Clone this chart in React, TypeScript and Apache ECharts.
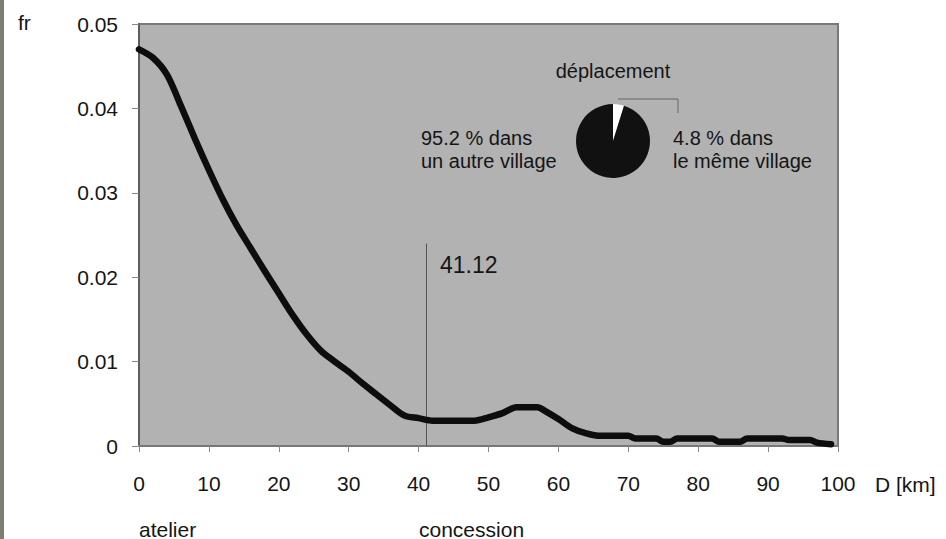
import React, { useEffect, useRef } from "react";
import * as echarts from "echarts";

const distances = [0, 2, 4, 6, 8, 10, 12, 14, 16, 18, 20, 22, 24, 26, 28, 30, 32, 34, 36, 38, 40, 42, 44, 46, 48, 50, 52, 54, 56, 57, 58, 60, 62, 64, 66, 68, 70, 71, 74, 75, 76, 77, 80, 82, 83, 86, 87, 88, 92, 93, 96, 97, 99];
const frequencies = [0.0470, 0.0460, 0.0440, 0.0403, 0.0364, 0.0327, 0.0292, 0.0261, 0.0234, 0.0207, 0.0181, 0.0155, 0.0132, 0.0113, 0.0100, 0.0088, 0.0074, 0.0061, 0.0048, 0.0036, 0.0033, 0.0030, 0.0030, 0.0030, 0.0030, 0.0034, 0.0039, 0.0046, 0.0046, 0.0046, 0.0042, 0.0032, 0.0021, 0.0015, 0.0012, 0.0012, 0.0012, 0.0009, 0.0009, 0.0005, 0.0005, 0.0009, 0.0009, 0.0009, 0.0005, 0.0005, 0.0009, 0.0009, 0.0009, 0.0007, 0.0007, 0.0004, 0.0002];
const markerDistance = 41.12;
const markerTop = 0.024;
const pieNames = ["le même village", "un autre village"];
const pieShares = [4.8, 95.2];

const FONT = "'Liberation Sans', Arial, Helvetica, sans-serif";
const TXT = "#151515";

export default function App() {
  const ref = useRef<HTMLDivElement>(null);
  useEffect(() => {
    if (!ref.current) return;
    const chart = echarts.init(ref.current, null, { renderer: "svg" });
    const lineData = distances.map((d, i) => [d, frequencies[i]]);
    chart.setOption({
      animation: false,
      backgroundColor: "#ffffff",
      textStyle: { fontFamily: FONT },
      grid: {
        left: 139,
        top: 24,
        width: 699,
        height: 422,
        show: true,
        backgroundColor: "#b2b2b2",
        borderColor: "#7a7a7a",
        borderWidth: 2,
      },
      xAxis: {
        type: "value",
        min: 0,
        max: 100,
        interval: 10,
        axisLine: { show: true, onZero: false, lineStyle: { color: "#777", width: 2 } },
        axisTick: { show: true, length: 6, lineStyle: { color: "#888" } },
        axisLabel: { fontSize: 21, color: TXT, margin: 27, fontFamily: FONT },
        splitLine: { show: false },
      },
      yAxis: {
        type: "value",
        min: 0,
        max: 0.05,
        interval: 0.01,
        axisLine: { show: true, lineStyle: { color: "#555", width: 1.5 } },
        axisTick: { show: true, length: 7, lineStyle: { color: "#888" } },
        axisLabel: {
          fontSize: 21,
          color: TXT,
          margin: 21,
          fontFamily: FONT,
          formatter: (v: number) => (v === 0 ? "0" : v.toFixed(2)),
        },
        splitLine: { show: false },
      },
      series: [
        {
          type: "line",
          data: lineData,
          showSymbol: false,
          smooth: 0.3,
          lineStyle: { color: "#0d0d0d", width: 6.5, cap: "round", join: "round" },
          z: 5,
          markLine: {
            silent: true,
            symbol: "none",
            label: { show: false },
            lineStyle: { color: "#555", width: 1, type: "solid" },
            data: [[{ coord: [markerDistance, 0] }, { coord: [markerDistance, markerTop] }]],
          },
        },
        {
          type: "pie",
          center: [613, 141],
          radius: 37,
          startAngle: 90,
          clockwise: true,
          label: { show: false },
          labelLine: { show: false },
          silent: true,
          z: 6,
          data: [
            { name: pieNames[0], value: pieShares[0], itemStyle: { color: "#ffffff", borderWidth: 0 } },
            { name: pieNames[1], value: pieShares[1], itemStyle: { color: "#111111", borderWidth: 0 } },
          ],
        },
      ],
      graphic: [
        { type: "rect", left: 0, top: 0, shape: { width: 4, height: 539 }, style: { fill: "#7d7d72" } },
        { type: "text", x: 18, y: 22, style: { text: "fr", font: `21px ${FONT}`, fill: TXT, textVerticalAlign: "middle" } },
        { type: "text", x: 875, y: 484, style: { text: "D [km]", font: `21px ${FONT}`, fill: TXT, textVerticalAlign: "middle" } },
        { type: "text", x: 139, y: 529, style: { text: "atelier", font: `21px ${FONT}`, fill: TXT, textVerticalAlign: "middle" } },
        { type: "text", x: 419, y: 529, style: { text: "concession", font: `21px ${FONT}`, fill: TXT, textVerticalAlign: "middle" } },
        { type: "text", x: 440, y: 265, z: 10, style: { text: String(markerDistance), font: `23px ${FONT}`, fill: TXT, textVerticalAlign: "middle" } },
        { type: "text", x: 613, y: 71, z: 10, style: { text: "déplacement", font: `20px ${FONT}`, fill: TXT, textAlign: "center", textVerticalAlign: "middle" } },
        { type: "text", x: 421, y: 149, z: 10, style: { text: `${pieShares[1]} % dans\n${pieNames[1]}`, font: `20px ${FONT}`, lineHeight: 23, fill: TXT, textVerticalAlign: "middle" } },
        { type: "text", x: 673, y: 149, z: 10, style: { text: `${pieShares[0]} % dans\n${pieNames[0]}`, font: `20px ${FONT}`, lineHeight: 23, fill: TXT, textVerticalAlign: "middle" } },
        { type: "polyline", z: 10, shape: { points: [[618, 99], [678, 99], [678, 113]] }, style: { stroke: "#666", lineWidth: 1, fill: "none" } },
      ],
    });
    return () => chart.dispose();
  }, []);
  return <div ref={ref} style={{ position: "absolute", left: 0, top: 0, width: 946, height: 539 }} />;
}
